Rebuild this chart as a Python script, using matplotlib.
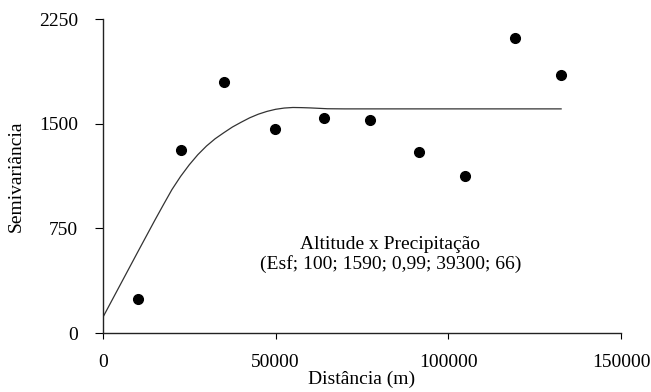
import numpy as np
import matplotlib.pyplot as plt

plt.rcParams['font.family'] = ['Liberation Serif', 'DejaVu Serif']

# experimental semivariance points
dist = [10260, 22590, 35170, 49710, 63870, 77230, 91480, 104740, 119270, 132650]
semivar = [246, 1309, 1800, 1459, 1538, 1524, 1294, 1125, 2115, 1850]

# fitted spherical model
model_dist = [0, 5000, 10000, 15000, 17500, 20000, 22500, 25000, 27500, 30000,
              32500, 35000, 37500, 40000, 42500, 45000, 47500, 50000,
              52500, 55000, 57500, 60000, 62500, 65000, 70000, 132650]
model_semivar = [112, 344, 576, 806, 918, 1028, 1122, 1205, 1278, 1340,
                 1392, 1435, 1476, 1510, 1542, 1568, 1588, 1603,
                 1612, 1616, 1615, 1613, 1610, 1607, 1606, 1606]

xticks = [0, 50000, 100000, 150000]
yticks = [0, 750, 1500, 2250]

fig = plt.figure(figsize=(6.51, 3.92), dpi=100)
ax = fig.add_axes([0.158, 0.1505, 0.796, 0.801])

ax.plot(model_dist, model_semivar, color='#333333', linewidth=0.9)
ax.plot(dist, semivar, 'o', color='black', markersize=7)

ax.set_xlim(0, 150000)
ax.set_ylim(0, 2250)
ax.set_xticks(xticks)
ax.set_yticks(yticks)
ax.set_xticklabels([str(t) for t in xticks])
ax.set_yticklabels([str(t) for t in yticks])

for side in ['top', 'right']:
    ax.spines[side].set_visible(False)
for side in ['left', 'bottom']:
    ax.spines[side].set_linewidth(1.0)
    ax.spines[side].set_color('#222222')

ax.tick_params(axis='x', direction='out', length=4, pad=11, labelsize=14)
ax.tick_params(axis='y', direction='out', length=6, pad=12, labelsize=14)

ax.set_xlabel('Distância (m)', fontsize=14, labelpad=0)
ax.set_ylabel('Semivariância', fontsize=14, labelpad=10)

ax.text(0.555, 0.25, 'Altitude x Precipitação\n(Esf; 100; 1590; 0,99; 39300; 66)',
        transform=ax.transAxes, ha='center', va='center', fontsize=14,
        linespacing=1.15)

plt.savefig('out.png', dpi=100)
